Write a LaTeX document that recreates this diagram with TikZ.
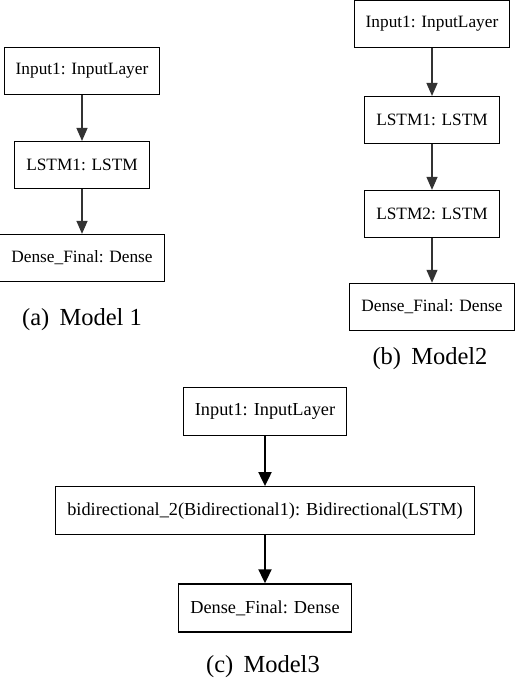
\documentclass[tikz,border=0pt]{standalone}
\usepackage{fontspec}
\setmainfont{Liberation Serif}
\usetikzlibrary{arrows.meta,positioning}
\tikzset
{
    layer/.style    = {rectangle, draw=black, line width=0.9pt, align=center, minimum height=47pt, inner xsep=11.5pt, font=\fontsize{17.3}{20}\selectfont},
    biglayer/.style = {layer, line width=1.2pt, minimum height=48pt, inner xsep=11.5pt, font=\fontsize{18.3}{21}\selectfont},
    caption/.style  = {font=\fontsize{24.5}{28}\selectfont},
    link/.style     = {-{Triangle[width=11pt,length=13pt]}, draw=black!80, line width=1.3pt},
    biglink/.style  = {-{Triangle[width=13pt,length=14pt]}, draw=black, line width=2pt}
}
\begin{document}
\begin{tikzpicture}
    [x=1pt, y=-1pt]
    \useasboundingbox (0,0) rectangle (514,682);
    % (a) Model 1
    \node [layer] (input1) at (82,71) {Input1: InputLayer};
    \node [layer, below=46pt of input1] (lstm1) {LSTM1: LSTM};
    \node [layer, below=45pt of lstm1] (dense1) {Dense\_Final: Dense};
    \node [caption] (capA) at (82,320) {(a)\, Model 1};
    \draw [link] (input1) -- (lstm1);
    \draw [link] (lstm1) -- (dense1);
    % (b) Model2
    \node [layer] (input2) at (432,24) {Input1: InputLayer};
    \node [layer, below=48pt of input2] (lstm2a) {LSTM1: LSTM};
    \node [layer, below=46pt of lstm2a] (lstm2b) {LSTM2: LSTM};
    \node [layer, below=45pt of lstm2b] (dense2) {Dense\_Final: Dense};
    \node [caption] (capB) at (430,359) {(b)\, Model2};
    \draw [link] (input2) -- (lstm2a);
    \draw [link] (lstm2a) -- (lstm2b);
    \draw [link] (lstm2b) -- (dense2);
    % (c) Model3
    \node [biglayer] (input3) at (265,411.5) {Input1: InputLayer};
    \node [biglayer, below=50pt of input3] (bidir3) {bidirectional\_2(Bidirectional1): Bidirectional(LSTM)};
    \node [biglayer, below=48pt of bidir3] (dense3) {Dense\_Final: Dense};
    \node [caption] (capC) at (263,667) {(c)\, Model3};
    \draw [biglink] (input3) -- (bidir3);
    \draw [biglink] (bidir3) -- (dense3);
\end{tikzpicture}
\end{document}
